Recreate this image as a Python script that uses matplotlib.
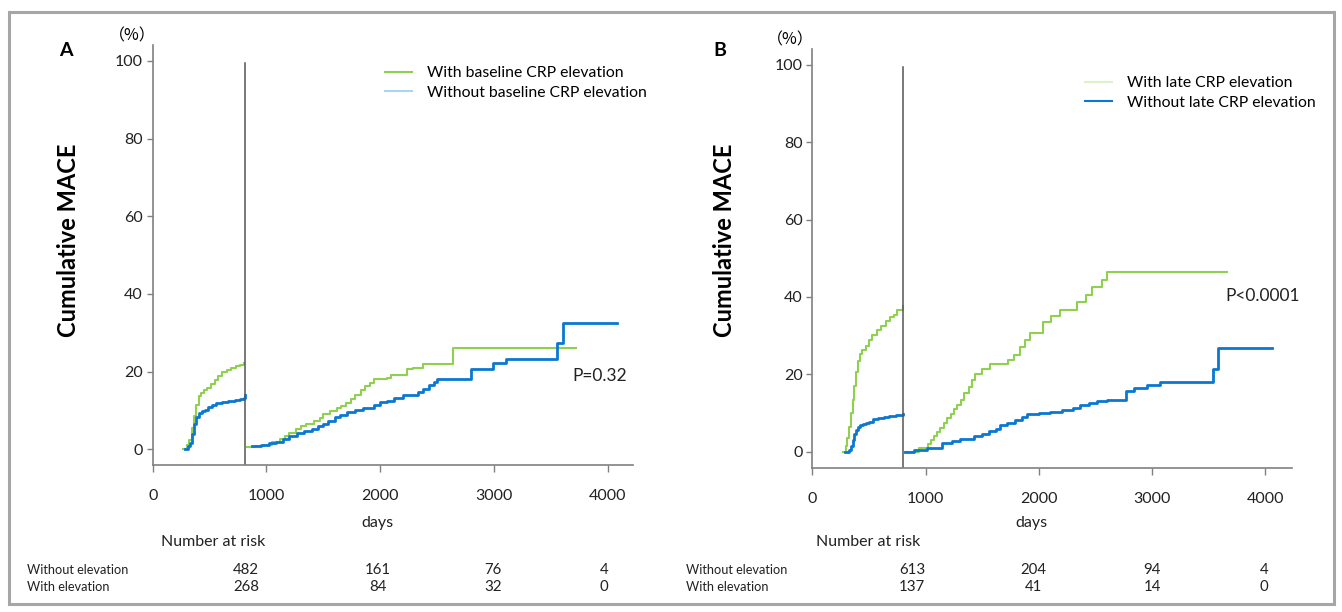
import matplotlib.pyplot as plt
from matplotlib.lines import Line2D
from matplotlib.patches import Rectangle
from matplotlib.transforms import blended_transform_factory

plt.rcParams['font.family'] = ['Lato', 'DejaVu Sans']

GREEN = '#8fd14f'
BLUE = '#0a78d2'
AXIS_GRAY = '#808080'
TEXT = '#222222'

# ---- panel A: baseline CRP elevation ----
a_early_green_days = [265, 300, 320, 345, 365, 385, 405, 425, 450, 480, 510, 545, 575, 610, 650, 690, 730, 770, 805]
a_early_green_pct = [0, 1.0, 2.5, 5.5, 8.5, 11.5, 13.8, 14.5, 15.2, 15.8, 16.8, 17.8, 18.8, 19.8, 20.4, 21.0, 21.5, 21.8, 22.3]
a_early_blue_days = [285, 310, 330, 345, 360, 380, 405, 430, 460, 490, 520, 560, 610, 660, 720, 770, 800, 808]
a_early_blue_pct = [0, 0.8, 1.6, 4.0, 6.5, 8.3, 9.3, 9.8, 10.2, 10.8, 11.5, 11.8, 12.1, 12.4, 12.7, 12.9, 13.1, 14.0]
a_late_green_days = [830, 900, 980, 1050, 1120, 1160, 1200, 1260, 1300, 1350, 1420, 1470, 1500, 1560, 1620, 1660,
                     1700, 1740, 1780, 1830, 1870, 1910, 1950, 2060, 2100, 2240, 2290, 2380, 2620, 2640, 3720]
a_late_green_pct = [0.5, 0.8, 1.2, 1.8, 2.6, 3.5, 4.3, 5.2, 6.0, 6.6, 7.2, 8.0, 9.0, 9.8, 10.6, 11.2,
                    12.0, 13.0, 14.0, 15.2, 16.3, 17.2, 18.2, 18.4, 19.1, 20.8, 20.9, 21.9, 21.9, 26.1, 26.1]
a_late_blue_days = [875, 950, 1020, 1080, 1150, 1200, 1270, 1330, 1400, 1450, 1500, 1540, 1600, 1650, 1710, 1780,
                    1850, 1950, 2000, 2060, 2120, 2200, 2330, 2380, 2430, 2470, 2500, 2800, 2990, 3110, 3555, 3605, 4080]
a_late_blue_pct = [0.9, 1.2, 1.6, 2.0, 2.7, 3.4, 4.1, 4.6, 5.2, 5.9, 6.4, 7.4, 8.3, 8.9, 9.5, 10.0,
                   10.6, 11.4, 12.2, 12.4, 13.2, 13.9, 14.7, 15.6, 16.5, 17.3, 18.2, 20.8, 22.1, 23.2, 27.3, 32.4, 32.4]

# ---- panel B: late CRP elevation ----
b_early_green_days = [270, 295, 310, 325, 340, 355, 370, 385, 400, 420, 440, 470, 500, 530, 570, 610, 650, 690, 720, 750, 798, 800]
b_early_green_pct = [0, 1.5, 3.5, 6.5, 10.0, 13.5, 17.0, 20.5, 23.5, 25.2, 26.3, 27.3, 29.0, 30.3, 31.5, 32.5, 33.8, 34.8, 35.4, 36.6, 36.6, 37.8]
b_early_blue_days = [290, 320, 340, 355, 370, 385, 400, 420, 445, 470, 500, 540, 580, 630, 680, 740, 798]
b_early_blue_pct = [0, 0.4, 1.5, 3.0, 4.5, 5.5, 6.3, 6.8, 7.2, 7.4, 7.8, 8.4, 8.7, 9.0, 9.2, 9.4, 9.7]
b_late_green_days = [815, 940, 1025, 1050, 1075, 1100, 1130, 1160, 1190, 1220, 1250, 1280, 1310, 1340, 1380, 1410,
                     1440, 1500, 1570, 1730, 1780, 1836, 1880, 1924, 2040, 2110, 2190, 2336, 2420, 2470, 2560, 2600, 3660]
b_late_green_pct = [0, 1.0, 2.0, 3.0, 4.0, 5.2, 6.2, 7.4, 8.6, 9.8, 11.0, 12.0, 13.5, 15.1, 16.8, 18.5,
                    20.0, 21.5, 22.6, 23.7, 25.0, 27.1, 28.8, 30.6, 33.5, 35.0, 36.7, 38.7, 40.5, 42.6, 44.5, 46.5, 46.5]
b_late_blue_days = [815, 900, 1010, 1145, 1230, 1300, 1365, 1430, 1500, 1560, 1620, 1660, 1720, 1790, 1850, 1895,
                    2000, 2100, 2200, 2300, 2365, 2440, 2513, 2600, 2770, 2836, 2950, 3070, 3540, 3585, 4057]
b_late_blue_pct = [0, 0.4, 0.9, 2.3, 2.9, 3.2, 3.4, 4.0, 4.7, 5.3, 6.0, 6.9, 7.5, 8.3, 9.0, 9.7,
                   10.0, 10.3, 10.9, 11.4, 12.0, 12.6, 13.2, 13.5, 15.7, 16.6, 17.2, 18.1, 21.5, 26.7, 26.7]

x_ticks = [0, 1000, 2000, 3000, 4000]
y_ticks = [0, 20, 40, 60, 80, 100]
risk_rows = ['Without elevation', 'With elevation']
a_risk_days = [820, 1980, 2990, 3970]
a_risk_without = [482, 161, 76, 4]
a_risk_with = [268, 84, 32, 0]
b_risk_days = [880, 1950, 3000, 3990]
b_risk_without = [613, 204, 94, 4]
b_risk_with = [137, 41, 14, 0]


def px(x, y):
    # pixel position in the 1342x612 picture -> figure fraction
    return x / 1342, 1 - y / 612


def draw_panel(ax, series, landmark, xmax, ymin, letter, letter_px, pct_px, ylabel_px,
               legend_labels, legend_colors, legend_anchor, p_text, p_pos,
               risk_days, risk_without, risk_with, label_x, days_x, nar_x):
    fig = ax.figure
    for days, pct, color, lw in series:
        ax.step(days, pct, where='post', color=color, linewidth=lw)
    ax.plot([landmark, landmark], [ymin, 99.5], color='#555555', linewidth=1.1)

    ax.set_xlim(0, xmax)
    ax.set_ylim(ymin, 104.1)
    ax.set_xticks(x_ticks)
    ax.set_yticks(y_ticks)
    for side in ['top', 'right']:
        ax.spines[side].set_visible(False)
    for side in ['left', 'bottom']:
        ax.spines[side].set_color(AXIS_GRAY)
        ax.spines[side].set_linewidth(1.2)
    ax.tick_params(axis='both', colors=AXIS_GRAY, labelcolor=TEXT, labelsize=11.5, width=1.0)
    ax.tick_params(axis='x', length=5, pad=12)
    ax.tick_params(axis='y', length=4, pad=3)

    fig.text(*px(*ylabel_px), 'Cumulative MACE', fontsize=17, fontweight='bold',
             rotation=90, ha='center', va='center')
    ax.text(p_pos[0], p_pos[1], p_text, fontsize=12.5, color=TEXT, va='center')

    # legend drawn with the pale swatches seen in the figure
    handles = [Line2D([], [], color=c, linewidth=1.5) for c in legend_colors]
    ax.legend(handles, legend_labels, loc='upper left', bbox_to_anchor=legend_anchor,
              frameon=False, fontsize=11.3, handlelength=1.75, handletextpad=0.9,
              labelspacing=0.36, borderaxespad=0, borderpad=0)

    fig.text(*px(*letter_px), letter, fontsize=14, fontweight='bold', ha='center', va='center')
    fig.text(*px(*pct_px), '（%）', fontsize=11.5,
             family=['Noto Sans CJK JP', 'DejaVu Sans'], ha='center', va='center')

    trans = blended_transform_factory(ax.transData, fig.transFigure)
    ax.text(days_x, 1 - 523 / 612, 'days', transform=trans,
            fontsize=11.5, ha='center', va='center', color=TEXT)
    ax.text(nar_x, 1 - 542 / 612, 'Number at risk', transform=trans,
            fontsize=11.5, ha='center', va='center', color=TEXT)
    for row_y, label, values in [(570, risk_rows[0], risk_without), (587, risk_rows[1], risk_with)]:
        fig.text(label_x, 1 - row_y / 612, label, fontsize=9.2, va='center', color=TEXT)
        for d, v in zip(risk_days, values):
            ax.text(d, 1 - row_y / 612, str(v), transform=trans, fontsize=10.8,
                    ha='center', va='center', color=TEXT)


fig = plt.figure(figsize=(13.42, 6.12), dpi=100)
ax_a = fig.add_axes([152.7 / 1342, 1 - 465 / 612, 480.3 / 1342, 420 / 612])
ax_b = fig.add_axes([812.3 / 1342, 1 - 468 / 612, 479.7 / 1342, 419 / 612])

draw_panel(ax_a,
           [(a_early_green_days, a_early_green_pct, GREEN, 1.5),
            (a_early_blue_days, a_early_blue_pct, BLUE, 2.0),
            (a_late_green_days, a_late_green_pct, GREEN, 1.5),
            (a_late_blue_days, a_late_blue_pct, BLUE, 2.0)],
           landmark=808, xmax=4224, ymin=-4.04, letter='A',
           letter_px=(66, 50), pct_px=(132, 36), ylabel_px=(69, 240),
           legend_labels=['With baseline CRP elevation', 'Without baseline CRP elevation'],
           legend_colors=[GREEN, '#a9d5f2'], legend_anchor=(0.4837, 0.95),
           p_text='P=0.32', p_pos=(3690, 18.9),
           risk_days=a_risk_days, risk_without=a_risk_without, risk_with=a_risk_with,
           label_x=27 / 1342, days_x=1980, nar_x=530)

draw_panel(ax_b,
           [(b_early_green_days, b_early_green_pct, GREEN, 1.5),
            (b_early_blue_days, b_early_blue_pct, BLUE, 2.0),
            (b_late_green_days, b_late_green_pct, GREEN, 1.5),
            (b_late_blue_days, b_late_blue_pct, BLUE, 2.0)],
           landmark=798, xmax=4234, ymin=-4.2, letter='B',
           letter_px=(720, 50), pct_px=(790, 40), ylabel_px=(725, 240),
           legend_labels=['With late CRP elevation', 'Without late CRP elevation'],
           legend_colors=['#dcf3c8', BLUE], legend_anchor=(0.5685, 0.935),
           p_text='P<0.0001', p_pos=(3645, 40.3),
           risk_days=b_risk_days, risk_without=b_risk_without, risk_with=b_risk_with,
           label_x=686 / 1342, days_x=1930, nar_x=490)

# grey frame around the whole figure
fig.patches.append(Rectangle((9 / 1342, 1 - 604 / 612), 1325 / 1342, 592 / 612,
                             transform=fig.transFigure, fill=False, edgecolor='#a6a6a6', linewidth=2.2))

fig.savefig('out.png', dpi=100)
